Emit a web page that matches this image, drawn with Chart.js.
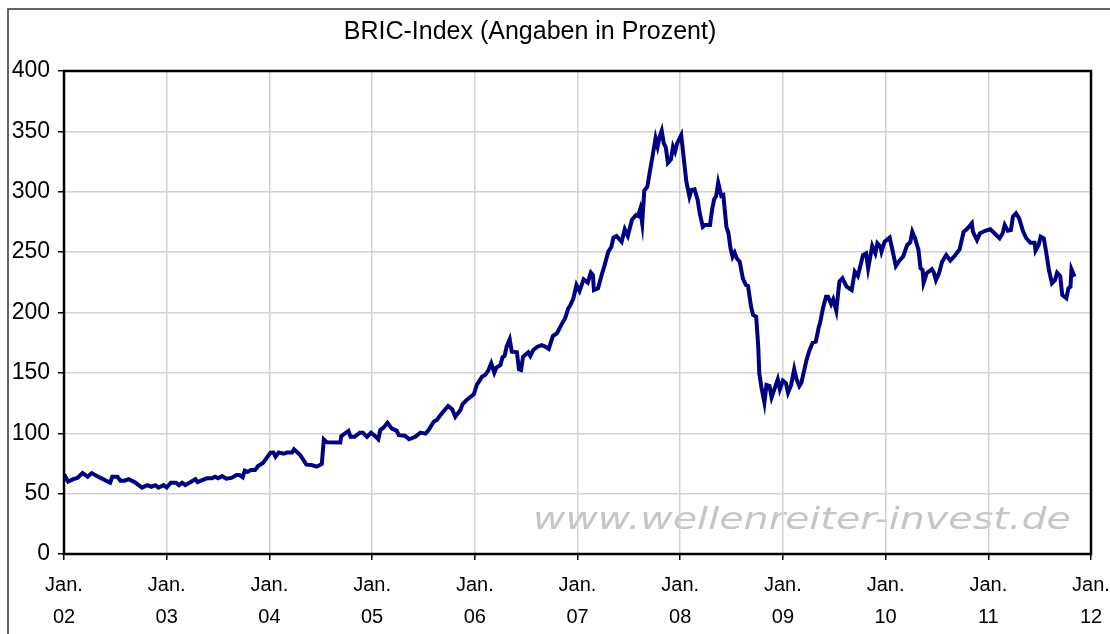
<!DOCTYPE html>
<html>
<head>
<meta charset="utf-8">
<title>BRIC-Index</title>
<script src="https://cdn.jsdelivr.net/npm/chart.js@4/dist/chart.umd.min.js"></script>
<style>
  html, body { margin: 0; padding: 0; background: #fff; }
  #wrap { width: 1110px; height: 634px; }
</style>
</head>
<body>
<div id="wrap"><canvas id="mycanvas" width="1110" height="634"></canvas></div>
<script>
// time positions as decimal years (weekly-ish samples)
var yearPos = [
  2002.00, 2002.04, 2002.09, 2002.13, 2002.18, 2002.23, 2002.27, 2002.32, 2002.38, 2002.45,
  2002.47, 2002.52, 2002.55, 2002.59, 2002.63, 2002.69, 2002.76, 2002.81, 2002.85, 2002.89,
  2002.92, 2002.97, 2003.00, 2003.04, 2003.09, 2003.12, 2003.15, 2003.18, 2003.23, 2003.28,
  2003.30, 2003.34, 2003.39, 2003.44, 2003.47, 2003.50, 2003.54, 2003.58, 2003.63, 2003.68,
  2003.71, 2003.74, 2003.76, 2003.79, 2003.82, 2003.86, 2003.89, 2003.94, 2004.01, 2004.04,
  2004.06, 2004.09, 2004.14, 2004.17, 2004.22, 2004.24, 2004.30, 2004.36, 2004.41, 2004.46,
  2004.51, 2004.53, 2004.56, 2004.69, 2004.70, 2004.77, 2004.79, 2004.83, 2004.88, 2004.91,
  2004.95, 2004.99, 2005.02, 2005.06, 2005.08, 2005.11, 2005.15, 2005.19, 2005.24, 2005.26,
  2005.32, 2005.36, 2005.42, 2005.47, 2005.52, 2005.55, 2005.60, 2005.63, 2005.68, 2005.74,
  2005.78, 2005.81, 2005.86, 2005.88, 2005.92, 2005.99, 2006.02, 2006.07, 2006.10, 2006.13,
  2006.16, 2006.19, 2006.21, 2006.25, 2006.27, 2006.29, 2006.31, 2006.34, 2006.36, 2006.41,
  2006.43, 2006.45, 2006.47, 2006.52, 2006.54, 2006.57, 2006.61, 2006.65, 2006.68, 2006.72,
  2006.76, 2006.80, 2006.85, 2006.88, 2006.91, 2006.93, 2006.96, 2006.99, 2007.02, 2007.06,
  2007.10, 2007.13, 2007.15, 2007.16, 2007.20, 2007.24, 2007.26, 2007.30, 2007.33, 2007.35,
  2007.38, 2007.43, 2007.46, 2007.49, 2007.53, 2007.57, 2007.59, 2007.61, 2007.63, 2007.65,
  2007.68, 2007.71, 2007.73, 2007.76, 2007.78, 2007.80, 2007.82, 2007.84, 2007.86, 2007.88,
  2007.91, 2007.93, 2007.95, 2007.97, 2008.01, 2008.04, 2008.06, 2008.09, 2008.11, 2008.14,
  2008.17, 2008.19, 2008.22, 2008.24, 2008.29, 2008.31, 2008.33, 2008.35, 2008.37, 2008.40,
  2008.42, 2008.45, 2008.47, 2008.49, 2008.51, 2008.53, 2008.55, 2008.58, 2008.61, 2008.64,
  2008.66, 2008.69, 2008.71, 2008.74, 2008.76, 2008.77, 2008.79, 2008.82, 2008.84, 2008.87,
  2008.89, 2008.92, 2008.95, 2008.97, 2009.00, 2009.03, 2009.05, 2009.08, 2009.11, 2009.13,
  2009.16, 2009.18, 2009.23, 2009.26, 2009.29, 2009.32, 2009.35, 2009.36, 2009.39, 2009.42,
  2009.44, 2009.47, 2009.49, 2009.52, 2009.55, 2009.58, 2009.62, 2009.67, 2009.70, 2009.73,
  2009.78, 2009.81, 2009.83, 2009.87, 2009.90, 2009.92, 2009.95, 2009.96, 2009.99, 2010.04,
  2010.10, 2010.14, 2010.17, 2010.21, 2010.24, 2010.26, 2010.29, 2010.32, 2010.34, 2010.36,
  2010.37, 2010.40, 2010.45, 2010.47, 2010.49, 2010.52, 2010.55, 2010.59, 2010.63, 2010.68,
  2010.72, 2010.76, 2010.79, 2010.84, 2010.85, 2010.89, 2010.92, 2010.97, 2011.02, 2011.06,
  2011.11, 2011.14, 2011.16, 2011.19, 2011.22, 2011.24, 2011.27, 2011.30, 2011.34, 2011.37,
  2011.41, 2011.45, 2011.46, 2011.49, 2011.51, 2011.54, 2011.56, 2011.59, 2011.62, 2011.65,
  2011.67, 2011.70, 2011.72, 2011.76, 2011.78, 2011.80, 2011.81, 2011.84
];

// BRIC-Index values in percent
var bricIndex = [
  66, 60, 62, 63, 67, 64, 67, 64.6, 62, 59,
  64, 64, 60.7, 60.7, 62, 59.4, 55, 57, 55.7, 57,
  55, 57, 55, 59, 59, 57, 59, 57, 59.4, 62,
  59.6, 61, 62.7, 62.7, 64, 62.7, 64.6, 62.4, 63, 65.4,
  65.4, 63.5, 69, 68, 69.5, 69.5, 72.9, 75.6, 83.9, 84,
  80.6, 84, 83, 84, 84, 86.7, 82, 74, 73.7, 72.3,
  74.5, 95, 92.5, 92.3, 97.7, 101.9, 97, 97, 100.5, 100.5,
  97, 100.5, 98.4, 95, 102.7, 104.6, 108.7, 104, 102, 98.4,
  98, 95, 97, 100.5, 99.7, 102.7, 109.6, 111, 116.5, 122.6,
  119.8, 113.7, 119.3, 124, 127.5, 132.2, 140, 146.8, 148.2, 151.8,
  157.9, 150.1, 154.3, 156.5, 162.9, 164, 171.7, 177.8, 167.5, 167,
  153, 152.4, 163.4, 167, 164, 169, 171.7, 173, 172, 169.8,
  180.5, 182.8, 191, 195.2, 203.5, 206, 211.8, 222.8, 217.8, 227.5,
  224.7, 233, 231, 218.6, 220, 232.5, 238, 250.4, 254.5, 262,
  263.4, 258.6, 268.9, 263.4, 276.6, 280.7, 279.9, 285.5, 273.9, 300.9,
  304.2, 319.4, 329, 344.3, 337.3, 345.6, 350.6, 340.1, 336.8, 324,
  326.9, 337.3, 333.2, 340.1, 347, 323.5, 308.3, 295.9, 301.4, 302,
  293.2, 282.2, 271, 272.5, 272.5, 284.9, 293.7, 296.5, 307.5, 296.5,
  297.3, 271, 265.6, 253.2, 246.2, 249.5, 244.9, 242, 228.3, 222.8,
  222, 204.8, 197.9, 196.5, 171.7, 149.6, 138.6, 125.3, 140, 139.1,
  129.8, 137.2, 144.7, 136.4, 143.5, 141.4, 133.6, 140, 153, 145.5,
  139.1, 141.9, 160.7, 169, 175, 175.8, 188.2, 190.5, 203.5, 213.1,
  213.1, 207, 210.9, 201.5, 225.5, 228.3, 221.4, 218.6, 233.8, 230.2,
  247.6, 249, 236.6, 255.1, 249, 257.3, 254.5, 250.4, 258.6, 262,
  238.5, 243.5, 246.2, 255.9, 258.1, 266.9, 260.6, 251.8, 236.6, 235.2,
  224.7, 232.5, 235.8, 233, 226.9, 232.5, 242, 247.6, 242.9, 247.6,
  252.3, 266.9, 268.9, 273.9, 266.9, 260, 265.6, 267.7, 268.9, 265.6,
  261.5, 265.6, 272.5, 267.7, 268.3, 279.3, 282.2, 278, 266.9, 261.5,
  257.8, 257.8, 251.2, 255.9, 262.8, 261.5, 251.8, 235.2, 224.2, 226.9,
  233, 230.2, 214.5, 211.8, 220, 221.4, 235.8, 229.6
];

var monthLabel = "Jan.";
var yearLabels = ["02", "03", "04", "05", "06", "07", "08", "09", "10", "11", "12"];
var yStep = 50;

var points = [];
for (var i = 0; i < yearPos.length; i++) {
    points.push({x: yearPos[i], y: bricIndex[i]});
}

var fontFam = "'Liberation Sans', Arial, sans-serif";

// frame, title, watermark and plot border (decoration only)
var decoPlugin = {
    id: 'deco',
    beforeDraw: function(chart) {
        var ctx = chart.ctx;
        var a = chart.chartArea;
        ctx.save();
        // outer frame of the excel chart object
        ctx.strokeStyle = '#333';
        ctx.lineWidth = 1.5;
        ctx.beginPath();
        ctx.moveTo(8, 634);
        ctx.lineTo(8, 9);
        ctx.lineTo(1110, 9);
        ctx.stroke();
        // title
        ctx.fillStyle = '#000';
        ctx.font = '25px ' + fontFam;
        ctx.textAlign = 'center';
        ctx.textBaseline = 'middle';
        ctx.fillText('BRIC-Index (Angaben in Prozent)', 530, 32);
        // watermark
        var txt = 'www.wellenreiter-invest.de';
        ctx.font = 'italic 31px "DejaVu Sans", Verdana, sans-serif';
        var w = ctx.measureText(txt).width;
        ctx.translate(a.right - 20, a.bottom - 33);
        ctx.scale(538 / w, 1);
        ctx.textAlign = 'right';
        ctx.fillStyle = '#c6c6c6';
        ctx.fillText(txt, 0, 0);
        ctx.restore();
    },
    afterDraw: function(chart) {
        var ctx = chart.ctx;
        var a = chart.chartArea;
        ctx.save();
        ctx.strokeStyle = '#000';
        ctx.lineWidth = 2.5;
        ctx.strokeRect(a.left, a.top, a.right - a.left, a.bottom - a.top);
        ctx.restore();
    }
};

var ctx = document.getElementById('mycanvas');

var LineGraph = new Chart(ctx, {
    type: 'line',
    data: {
        datasets: [
            {
                label: 'BRIC-Index',
                data: points,
                borderColor: '#000080',
                backgroundColor: '#000080',
                borderWidth: 4,
                pointRadius: 0,
                tension: 0,
                fill: false
            }
        ]
    },
    options: {
        responsive: false,
        animation: false,
        events: [],
        layout: {
            padding: {left: 0, right: 19, top: 71, bottom: 0}
        },
        plugins: {
            legend: {display: false},
            title: {display: false},
            tooltip: {enabled: false}
        },
        scales: {
            x: {
                type: 'linear',
                min: 2002,
                max: 2012,
                border: {display: false},
                grid: {
                    color: '#d2d2d2',
                    lineWidth: 1.5,
                    tickColor: '#000',
                    tickLength: 6,
                    drawTicks: true
                },
                ticks: {
                    stepSize: 1,
                    autoSkip: false,
                    maxRotation: 0,
                    padding: 9,
                    color: '#000',
                    font: {family: fontFam, size: 20, lineHeight: 1.6},
                    callback: function(value) {
                        return [monthLabel, yearLabels[Math.round(value - 2002)]];
                    }
                },
                afterFit: function(scale) {
                    scale.height = 80;
                    scale.paddingLeft = 0;
                    scale.paddingRight = 0;
                }
            },
            y: {
                min: 0,
                max: 400,
                border: {display: false},
                grid: {
                    color: '#d2d2d2',
                    lineWidth: 1.5,
                    tickColor: '#000',
                    tickLength: 6
                },
                ticks: {
                    stepSize: yStep,
                    padding: 8,
                    color: '#000',
                    font: {family: fontFam, size: 23}
                },
                afterFit: function(scale) {
                    scale.width = 64;
                    scale.paddingTop = 0;
                    scale.paddingBottom = 0;
                }
            }
        }
    },
    plugins: [decoPlugin]
});
</script>
</body>
</html>
